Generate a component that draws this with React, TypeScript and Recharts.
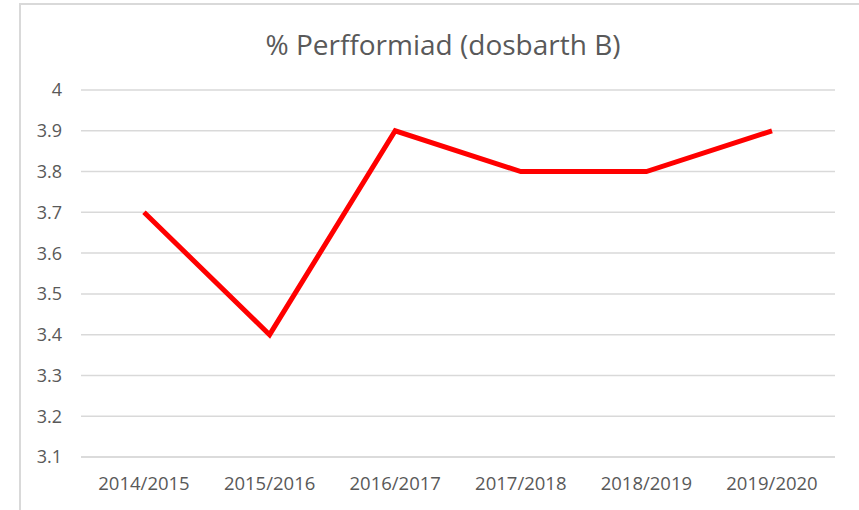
import { CartesianGrid, Line, LineChart, XAxis, YAxis } from "recharts";

const years = ["2014/2015", "2015/2016", "2016/2017", "2017/2018", "2018/2019", "2019/2020"];
const performance = [3.7, 3.4, 3.9, 3.8, 3.8, 3.9];
const yTicks = [3.1, 3.2, 3.3, 3.4, 3.5, 3.6, 3.7, 3.8, 3.9, 4];

const chartTitle = "% Perfformiad (dosbarth B)";

const data = years.map((year, i) => ({ year, value: performance[i] }));

const font = "'Open Sans', 'Noto Sans', sans-serif";
const textColor = "#595959";
const gridColor = "#d9d9d9";

export default function App() {
  return (
    <div
      style={{
        position: "fixed",
        left: 0,
        top: 0,
        width: 859,
        height: 510,
        background: "#fff",
        overflow: "hidden",
        fontFamily: font,
      }}
    >
      <div
        style={{
          position: "absolute",
          left: 19,
          top: 3,
          width: 900,
          height: 600,
          border: `2px solid ${gridColor}`,
        }}
      />
      <div
        style={{
          position: "absolute",
          left: 0,
          top: 25,
          width: 886,
          textAlign: "center",
          fontSize: 28,
          color: textColor,
        }}
      >
        {chartTitle}
      </div>
      <div style={{ position: "absolute", left: 0, top: 0 }}>
        <LineChart
          width={859}
          height={510}
          data={data}
          margin={{ top: 90, right: 24, left: 0, bottom: 0 }}
        >
          <CartesianGrid vertical={false} stroke={gridColor} strokeWidth={1.5} />
          <XAxis
            dataKey="year"
            height={53}
            padding={{ left: 63, right: 63 }}
            axisLine={{ stroke: gridColor, strokeWidth: 1.5 }}
            tickLine={false}
            tickSize={0}
            tickMargin={20}
            tick={{ fill: textColor, fontSize: 18.5, fontFamily: font }}
            interval={0}
          />
          <YAxis
            width={81}
            domain={[3.1, 4]}
            ticks={yTicks}
            axisLine={false}
            tickLine={false}
            tickSize={0}
            tickMargin={19}
            tick={{ fill: textColor, fontSize: 18, fontFamily: font }}
          />
          <Line
            type="linear"
            dataKey="value"
            stroke="#ff0000"
            strokeWidth={5}
            dot={false}
            activeDot={false}
            isAnimationActive={false}
          />
        </LineChart>
      </div>
    </div>
  );
}
